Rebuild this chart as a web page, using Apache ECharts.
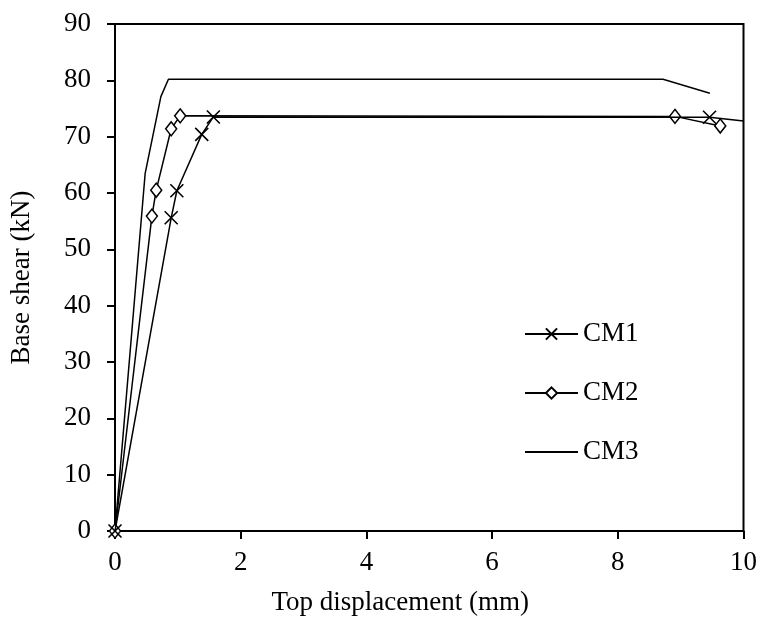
<!DOCTYPE html>
<html>
<head>
<meta charset="utf-8">
<script src="https://cdn.jsdelivr.net/npm/echarts@6/dist/echarts.min.js"></script>
<style>
html,body{margin:0;padding:0;background:#fff;}
#chart{width:760px;height:621px;}
</style>
</head>
<body>
<div id="chart"></div>
<script>
// Data (x: top displacement mm, y: base shear kN)
const seriesNames = ['CM1', 'CM2', 'CM3'];
const cm1 = [[0, 0], [0.894, 55.6], [0.984, 60.4], [1.38, 70.4], [1.565, 73.5], [9.46, 73.45], [10.0, 72.8]];
const cm2 = [[0, 0], [0.587, 55.9], [0.656, 60.5], [0.894, 71.4], [1.037, 73.7], [8.91, 73.6], [9.63, 71.9]];
const cm3 = [[0, 0], [0.48, 63.5], [0.73, 77.1], [0.85, 80.2], [8.72, 80.2], [9.465, 77.7]];
const xTicks = [0, 2, 4, 6, 8, 10];
const yTicks = [0, 10, 20, 30, 40, 50, 60, 70, 80, 90];
const xTitle = 'Top displacement (mm)';
const yTitle = 'Base shear (kN)';

const FONT = "'Liberation Serif', 'Times New Roman', serif";
const FS = 27;

const chart = echarts.init(document.getElementById('chart'), null, {renderer: 'canvas'});

// last CM1 point sits on the frame and shows no marker
const cm1Data = cm1.map((p, i) => i === cm1.length - 1 ? {value: p, symbol: 'none'} : p);

chart.setOption({
  backgroundColor: '#fff',
  animation: false,
  grid: {left: 115, right: 16, top: 24, bottom: 82, show: true, borderColor: '#000', borderWidth: 2, containLabel: false},
  legend: {
    orient: 'vertical', left: 519, top: 313, itemWidth: 53, itemHeight: 14, itemGap: 27,
    data: [
      {name: seriesNames[0]},
      {name: seriesNames[1]},
      {name: seriesNames[2], icon: 'path://M0 0H53V2H0Z', itemStyle: {color: '#000', borderWidth: 0}}
    ],
    textStyle: {fontFamily: FONT, fontSize: FS, color: '#000', lineHeight: 32}
  },
  xAxis: {
    type: 'value', min: xTicks[0], max: xTicks[xTicks.length - 1], interval: 2,
    name: xTitle, nameLocation: 'middle', nameGap: 58,
    nameTextStyle: {fontFamily: FONT, fontSize: FS, color: '#000', padding: [0, 58, 0, 0]},
    axisLine: {show: true, lineStyle: {color: '#000', width: 2}},
    axisTick: {show: true, inside: false, length: 8, lineStyle: {color: '#000', width: 2}},
    axisLabel: {fontFamily: FONT, fontSize: FS, color: '#000', margin: 18},
    splitLine: {show: false}
  },
  yAxis: {
    type: 'value', min: yTicks[0], max: yTicks[yTicks.length - 1], interval: 10,
    name: yTitle, nameLocation: 'middle', nameGap: 80,
    nameTextStyle: {fontFamily: FONT, fontSize: FS, color: '#000'},
    axisLine: {show: true, lineStyle: {color: '#000', width: 2}},
    axisTick: {show: true, inside: false, length: 8, lineStyle: {color: '#000', width: 2}},
    axisLabel: {fontFamily: FONT, fontSize: FS, color: '#000', margin: 24},
    splitLine: {show: false}
  },
  series: [
    {
      name: 'CM1', type: 'line', data: cm1Data, z: 4,
      symbol: 'path://M0 0L10 10M10 0L0 10', symbolSize: 13,
      itemStyle: {color: '#000', borderColor: '#000', borderWidth: 1.6},
      lineStyle: {color: '#000', width: 1.5}
    },
    {
      name: 'CM2', type: 'line', data: cm2, z: 3,
      symbol: 'diamond', symbolSize: [11, 14],
      itemStyle: {color: '#fff', borderColor: '#000', borderWidth: 1.5},
      lineStyle: {color: '#000', width: 1.5}
    },
    {
      name: 'CM3', type: 'line', data: cm3, z: 2,
      symbol: 'none', showSymbol: false,
      itemStyle: {color: '#000'},
      lineStyle: {color: '#000', width: 1.5}
    }
  ]
});
</script>
</body>
</html>
